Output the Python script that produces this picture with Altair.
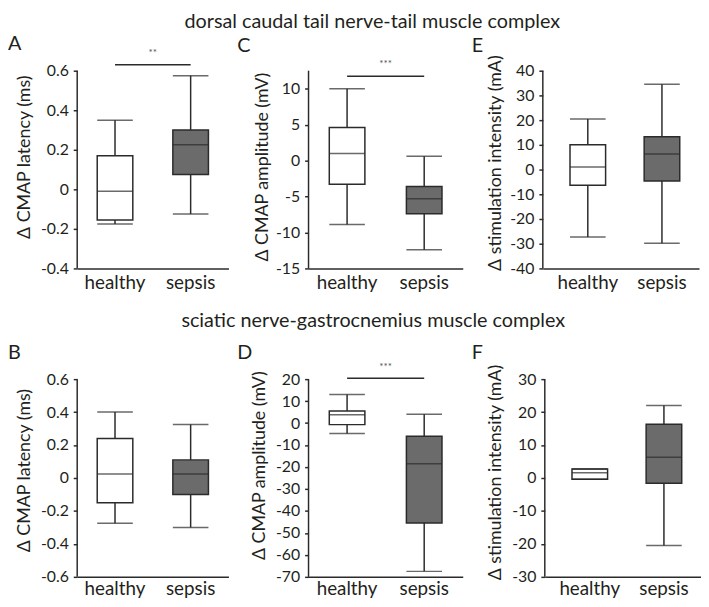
import altair as alt
import pandas as pd

FONT = "Lato"
TEXT = "#231f20"
LINE = "#2b2b2b"
GRAY = "#6b6b6b"

groups = ["healthy", "sepsis"]

# ---- box statistics (low whisker, Q1, median, Q3, high whisker)
# A: dorsal caudal tail, CMAP latency (ms)
A_low, A_q1, A_med, A_q3, A_high = [-0.175, -0.125], [-0.155, 0.075], [-0.01, 0.225], [0.17, 0.30], [0.35, 0.575]
# C: dorsal caudal tail, CMAP amplitude (mV)
C_low, C_q1, C_med, C_q3, C_high = [-8.9, -12.4], [-3.3, -7.4], [1.0, -5.3], [4.6, -3.6], [10.0, 0.6]
# E: dorsal caudal tail, stimulation intensity (mA)
E_low, E_q1, E_med, E_q3, E_high = [-27.3, -29.8], [-6.3, -4.6], [1.0, 6.3], [10.0, 13.3], [20.5, 34.5]
# B: sciatic, CMAP latency (ms)
B_low, B_q1, B_med, B_q3, B_high = [-0.275, -0.30], [-0.15, -0.10], [0.025, 0.025], [0.24, 0.11], [0.40, 0.325]
# D: sciatic, CMAP amplitude (mV)
D_low, D_q1, D_med, D_q3, D_high = [-4.7, -67.5], [-0.7, -45.5], [3.8, -18.5], [5.5, -6.0], [13.0, 4.0]
# F: sciatic, stimulation intensity (mA)
F_low, F_q1, F_med, F_q3, F_high = [-0.4, -20.5], [-0.4, -1.6], [1.6, 6.3], [2.7, 16.3], [2.7, 22.0]

# y-axis tick labels
A_ticks = [-0.4, -0.2, 0, 0.2, 0.4, 0.6]
C_ticks = [-15, -10, -5, 0, 5, 10]
E_ticks = [-40, -30, -20, -10, 0, 10, 20, 30, 40]
B_ticks = [-0.6, -0.4, -0.2, 0, 0.2, 0.4, 0.6]
D_ticks = [-70, -60, -50, -40, -30, -20, -10, 0, 10, 20]
F_ticks = [-30, -20, -10, 0, 10, 20, 30]
C_axis_top = 12.5

# significance annotations: label, bar level, label level
A_sig = ["**", 0.63, 0.6875]
C_sig = ["***", 11.72, 13.4]
D_sig = ["***", 20.45, 25.4]

row_titles = ["dorsal caudal tail nerve-tail muscle complex",
              "sciatic nerve-gastrocnemius muscle complex"]
y_titles = ["\u0394 CMAP latency (ms)", "\u0394 CMAP amplitude (mV)", "\u0394 stimulation intensity (mA)"]

AXIS_LEN = 200
COL_W = [153, 156, 158]
LABEL_EXPR = "(datum.value < 0 ? '-' : '') + abs(datum.value)"


def panel(letter, ytitle, low, q1, med, q3, high, ticks, axis_top, col, ext_px,
          title_x, title_y, letter_dx, letter_off, xlab_pad, sig=None, pad_outer=0.0, align=0.5):
    ymin = ticks[0]
    dom_top = axis_top + ext_px * (axis_top - ymin) / AXIS_LEN
    df = pd.DataFrame({"group": groups, "low": low, "q1": q1, "med": med,
                       "q3": q3, "high": high})
    yscale = alt.Scale(domain=[ymin, dom_top], nice=False, zero=False)
    xscale = alt.Scale(domain=groups, paddingInner=0, paddingOuter=pad_outer, align=align)
    xenc = alt.X("group:N", scale=xscale,
                 axis=alt.Axis(title=None, labelAngle=0, ticks=False, labelFontSize=19,
                               labelPadding=xlab_pad, domainWidth=1.5))
    base = alt.Chart(df)
    whisk = base.mark_rule(color=LINE, strokeWidth=1.5).encode(
        x=xenc,
        y=alt.Y("low:Q", scale=yscale,
                axis=alt.Axis(values=ticks, tickCount=len(ticks), title=ytitle, domain=False,
                              labelExpr=LABEL_EXPR, labelOverlap=False,
                              titleAngle=270, titleAlign="center", titleBaseline="bottom",
                              titleX=title_x, titleY=title_y)),
        y2="high:Q")
    box = base.mark_bar(size=36, stroke=LINE, strokeWidth=1.5).encode(
        x=xenc,
        y=alt.Y("q1:Q", scale=yscale),
        y2="q3:Q",
        color=alt.Color("group:N", scale=alt.Scale(domain=groups, range=["#ffffff", GRAY]),
                        legend=None))
    cap_lo = base.mark_tick(size=36, thickness=1.5, color=LINE).encode(
        x=xenc, y=alt.Y("low:Q", scale=yscale))
    cap_hi = base.mark_tick(size=36, thickness=1.5, color=LINE).encode(
        x=xenc, y=alt.Y("high:Q", scale=yscale))
    median = base.mark_tick(size=36, thickness=1.5, color=LINE).encode(
        x=xenc, y=alt.Y("med:Q", scale=yscale))
    axline = alt.Chart(pd.DataFrame({"lo": [ymin], "hi": [axis_top]})).mark_rule(
        color=LINE, strokeWidth=1.5).encode(
        x=alt.value(0), y=alt.Y("lo:Q", scale=yscale), y2="hi:Q")
    layers = [whisk, box, cap_lo, cap_hi, median, axline]
    if sig is not None:
        sdf = pd.DataFrame({"g1": ["healthy"], "g2": ["sepsis"], "lab": [sig[0]],
                            "bar": [sig[1]], "txt": [sig[2]]})
        srule = alt.Chart(sdf).mark_rule(color=LINE, strokeWidth=1.5).encode(
            x=alt.X("g1:N", scale=xscale), x2="g2:N", y=alt.Y("bar:Q", scale=yscale))
        stext = alt.Chart(sdf).mark_text(
            fontSize=10, color="#555555", font=FONT, baseline="middle").encode(
            x=alt.X("g1:N", scale=xscale, bandPosition=1.0),
            y=alt.Y("txt:Q", scale=yscale), text="lab:N")
        layers += [srule, stext]
    return alt.layer(*layers).properties(
        width=COL_W[col], height=AXIS_LEN + ext_px,
        title=alt.TitleParams(text=letter, anchor="start", frame="group", dx=letter_dx,
                              offset=letter_off, fontSize=20, fontWeight="normal", font=FONT,
                              color=TEXT))


E1, E2 = 21, 19
L1, L2 = -6, -3
pA = panel("A", y_titles[0], A_low, A_q1, A_med, A_q3, A_high, A_ticks, A_ticks[-1], 0, E1,
           -44, 108, -70, L1, 5, A_sig)
pC = panel("C", y_titles[1], C_low, C_q1, C_med, C_q3, C_high, C_ticks, C_axis_top, 1, E1,
           -38, 118, -72, L1, 5, C_sig)
pE = panel("E", y_titles[2], E_low, E_q1, E_med, E_q3, E_high, E_ticks, E_ticks[-1], 2, E1,
           -39, 114, -72, L1, 5, None, 0.0533, 1.0)
pB = panel("B", y_titles[0], B_low, B_q1, B_med, B_q3, B_high, B_ticks, B_ticks[-1], 0, E2,
           -44, 111, -70, L2, 3)
pD = panel("D", y_titles[1], D_low, D_q1, D_med, D_q3, D_high, D_ticks, D_ticks[-1], 1, E2,
           -41, 106, -72, L2, 3, D_sig)
pF = panel("F", y_titles[2], F_low, F_q1, F_med, F_q3, F_high, F_ticks, F_ticks[-1], 2, E2,
           -41, 113, -74, L2, 3, None, 0.0533, 1.0)

row1 = alt.hconcat(pA, pC, pE, spacing=9).properties(
    title=alt.TitleParams(text=row_titles[0], anchor="middle", dx=19, offset=3,
                          fontSize=20, fontWeight="normal", font=FONT, color=TEXT))
row2 = alt.hconcat(pB, pD, pF, spacing=9).properties(
    title=alt.TitleParams(text=row_titles[1], anchor="middle", dx=19, offset=13,
                          fontSize=20, fontWeight="normal", font=FONT, color=TEXT))

chart = alt.vconcat(row1, row2, spacing=19).properties(
    padding={"left": 0, "top": 0, "right": 0, "bottom": 0}
).configure_view(stroke=None).configure_axis(
    grid=False, domainColor=LINE, domainWidth=1.5, tickColor=LINE, tickWidth=1.5, tickSize=4,
    labelColor=TEXT, titleColor=TEXT, labelFont=FONT, titleFont=FONT, titleFontWeight="normal",
    labelFontSize=16, titleFontSize=18, labelPadding=5
).configure_title(font=FONT, color=TEXT, fontWeight="normal")

chart.save("out.html", embed_options={"renderer": "svg", "actions": False})
